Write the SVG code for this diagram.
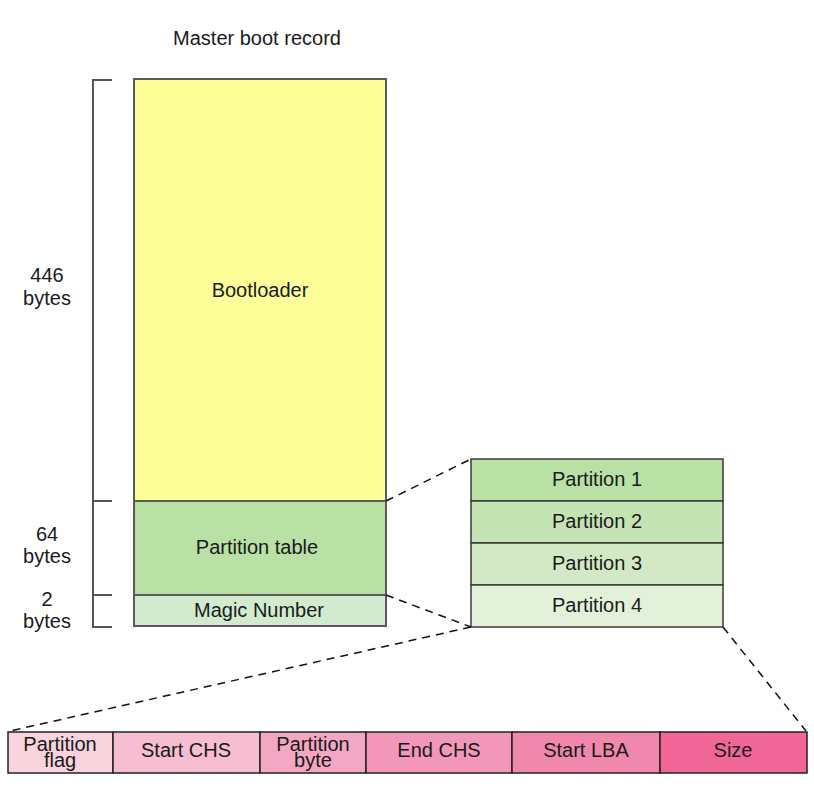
<svg xmlns="http://www.w3.org/2000/svg" width="814" height="788" viewBox="0 0 814 788">
<style>
text{font-family:"Liberation Sans",Arial,sans-serif;font-size:20px;fill:#1a1a1a;text-anchor:middle}
.mb{stroke:#5a5a5a;stroke-width:2}
.pt{stroke:#3a3a3a;stroke-width:1.5}
.fr{stroke:#222;stroke-width:1.5}
.br{fill:none;stroke:#555;stroke-width:2}
.dash{fill:none;stroke:#111;stroke-width:1.5;stroke-dasharray:8 6}
</style>
<rect width="814" height="788" fill="#fff"/>
<text x="257" y="45">Master boot record</text>
<g id="bracket">
<path class="br" d="M112,80 H93 V627 H112 M93,501 H112 M93,595 H112"/>
<text x="47" y="282">446</text><text x="47" y="305">bytes</text>
<text x="47" y="541">64</text><text x="47" y="563">bytes</text>
<text x="47" y="606">2</text><text x="47" y="628">bytes</text>
</g>
<g id="bootloader"><rect class="mb" x="134" y="79" width="252" height="422" fill="#FFFF99"/><text x="260" y="297">Bootloader</text></g>
<g id="partition-table"><rect class="mb" x="134" y="501" width="252" height="94" fill="#B9E0A5"/><text x="257" y="554">Partition table</text></g>
<g id="magic-number"><rect class="mb" x="134" y="595" width="252" height="31" fill="#D2EBCE"/><text x="259" y="617">Magic Number</text></g>
<g id="partition-1"><rect class="pt" x="471" y="459" width="252" height="42" fill="#B9E0A5"/><text x="597" y="486">Partition 1</text></g>
<g id="partition-2"><rect class="pt" x="471" y="501" width="252" height="42" fill="#C5E4B3"/><text x="597" y="528">Partition 2</text></g>
<g id="partition-3"><rect class="pt" x="471" y="543" width="252" height="42" fill="#D3E9C6"/><text x="597" y="570">Partition 3</text></g>
<g id="partition-4"><rect class="pt" x="471" y="585" width="252" height="42" fill="#E3F1DA"/><text x="597" y="612">Partition 4</text></g>
<g id="connectors">
<path class="dash" d="M386,501 L471,459"/>
<path class="dash" d="M386,595 L471,627"/>
<path class="dash" d="M471,627 L10,731"/>
<path class="dash" d="M723,627 L806,731"/>
</g>
<g id="partition-flag"><rect class="fr" x="8" y="732" width="105" height="41" fill="#F9D3DE"/><text x="60" y="751">Partition</text><text x="60" y="767">flag</text></g>
<g id="start-chs"><rect class="fr" x="113" y="732" width="147" height="41" fill="#F7BDD0"/><text x="186" y="757">Start CHS</text></g>
<g id="partition-byte"><rect class="fr" x="260" y="732" width="106" height="41" fill="#F3A7C3"/><text x="313" y="751">Partition</text><text x="313" y="767">byte</text></g>
<g id="end-chs"><rect class="fr" x="366" y="732" width="146" height="41" fill="#F297B9"/><text x="439" y="757">End CHS</text></g>
<g id="start-lba"><rect class="fr" x="512" y="732" width="148" height="41" fill="#F088AE"/><text x="586" y="757">Start LBA</text></g>
<g id="size"><rect class="fr" x="660" y="732" width="147" height="41" fill="#F06797"/><text x="733" y="757">Size</text></g>
</svg>
